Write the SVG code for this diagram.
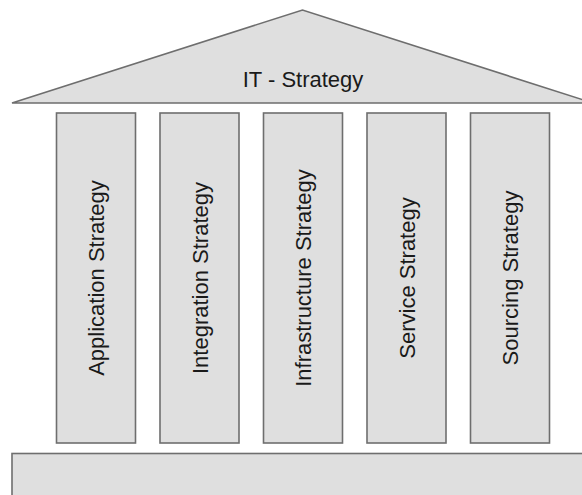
<svg xmlns="http://www.w3.org/2000/svg" width="582" height="495" viewBox="0 0 582 495">
  <style>
    .shape { fill: #dfdfdf; stroke: #6e6e6e; stroke-width: 1.6; stroke-linejoin: miter; }
    .lbl { font-family: "Liberation Sans", Arial, sans-serif; font-size: 22px; fill: #1a1a1a; text-anchor: middle; }
  </style>
  <rect width="582" height="495" fill="#ffffff"/>
  <g id="roof">
    <polygon class="shape" points="12,103 302.5,10 593,103"/>
    <text class="lbl" x="303" y="86.5">IT - Strategy</text>
  </g>
  <g id="pillar-application">
    <rect class="shape" x="56.5" y="113" width="79" height="330"/>
    <text class="lbl" transform="translate(104,278) rotate(-90)">Application Strategy</text>
  </g>
  <g id="pillar-integration">
    <rect class="shape" x="160" y="113" width="79" height="330"/>
    <text class="lbl" transform="translate(207.5,278) rotate(-90)">Integration Strategy</text>
  </g>
  <g id="pillar-infrastructure">
    <rect class="shape" x="263.5" y="113" width="79" height="330"/>
    <text class="lbl" transform="translate(311,278) rotate(-90)">Infrastructure Strategy</text>
  </g>
  <g id="pillar-service">
    <rect class="shape" x="367" y="113" width="79" height="330"/>
    <text class="lbl" transform="translate(414.5,278) rotate(-90)">Service Strategy</text>
  </g>
  <g id="pillar-sourcing">
    <rect class="shape" x="470.5" y="113" width="79" height="330"/>
    <text class="lbl" transform="translate(518,278) rotate(-90)">Sourcing Strategy</text>
  </g>
  <g id="foundation">
    <rect class="shape" x="12" y="453.5" width="600" height="60"/>
  </g>
  <g id="connectors"></g>
</svg>
